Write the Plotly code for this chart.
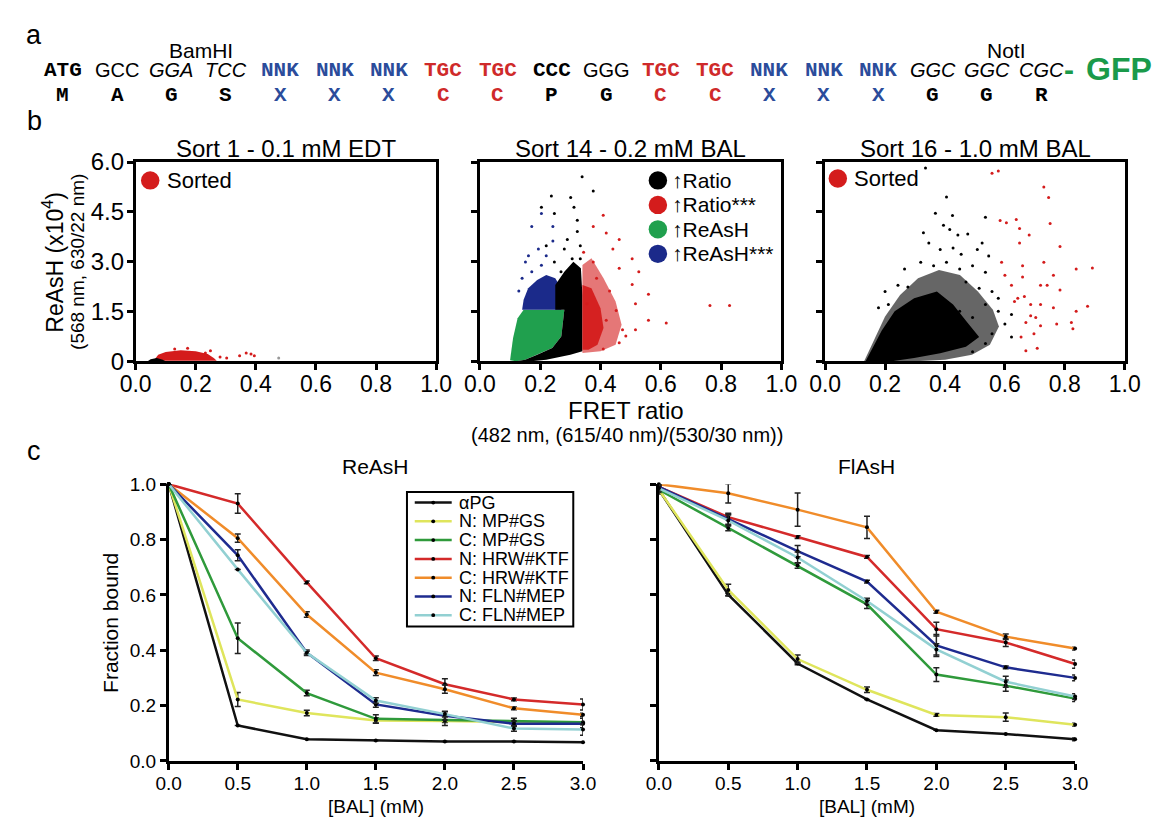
import plotly.graph_objects as go

W, H = 1166, 830
SANS = "Liberation Sans"
MONO = "Liberation Mono"

# ---------------- Panel a: sequence ----------------
codons = ["ATG", "GCC", "GGA", "TCC", "NNK", "NNK", "NNK", "TGC", "TGC", "CCC",
          "GGG", "TGC", "TGC", "NNK", "NNK", "NNK", "GGC", "GGC", "CGC"]
aminos = ["M", "A", "G", "S", "X", "X", "X", "C", "C", "P",
          "G", "C", "C", "X", "X", "X", "G", "G", "R"]
codon_kind = ["mono", "sans", "ital", "ital", "mono", "mono", "mono", "mono", "mono", "mono",
              "sans", "mono", "mono", "mono", "mono", "mono", "ital", "ital", "ital"]
BLUE_T, RED_T = "#2b4c9b", "#cf2a2a"
codon_color = ["black", "black", "black", "black", BLUE_T, BLUE_T, BLUE_T, RED_T, RED_T, "black",
               "black", RED_T, RED_T, BLUE_T, BLUE_T, BLUE_T, "black", "black", "black"]

# ---------------- Panel b: flow cytometry clouds ----------------
# Sort 1
b1_red_poly_x = [0.06, 0.075, 0.10, 0.15, 0.20, 0.24, 0.26, 0.27]
b1_red_poly_y = [0.02, 0.20, 0.28, 0.33, 0.30, 0.22, 0.10, 0.02]
b1_blk_poly_x = [0.04, 0.05, 0.07, 0.09, 0.10]
b1_blk_poly_y = [0.00, 0.06, 0.10, 0.05, 0.00]
b1_red_x = [0.281, 0.303, 0.346, 0.368, 0.384, 0.395, 0.249, 0.232, 0.173, 0.130]
b1_red_y = [0.13, 0.10, 0.17, 0.25, 0.22, 0.17, 0.32, 0.25, 0.39, 0.37]
b1_grey_x = [0.476]
b1_grey_y = [0.10]

# Sort 14
b2_green_poly_x = [0.10, 0.11, 0.125, 0.145, 0.28, 0.27, 0.24, 0.19, 0.15, 0.12]
b2_green_poly_y = [0.03, 0.70, 1.30, 1.55, 1.55, 0.75, 0.40, 0.20, 0.05, 0.00]
b2_blue_poly_x = [0.14, 0.145, 0.16, 0.19, 0.22, 0.25, 0.27, 0.27]
b2_blue_poly_y = [1.55, 1.85, 2.20, 2.45, 2.60, 2.50, 2.20, 1.55]
b2_black_poly_x = [0.12, 0.15, 0.19, 0.24, 0.27, 0.28, 0.25, 0.25, 0.28, 0.31, 0.335, 0.34, 0.34, 0.30, 0.22, 0.17]
b2_black_poly_y = [0.00, 0.05, 0.20, 0.40, 0.75, 1.55, 1.55, 2.30, 2.70, 3.00, 2.80, 2.00, 0.30, 0.20, 0.05, 0.00]
b2_red_halo_x = [0.34, 0.34, 0.37, 0.41, 0.45, 0.47, 0.45, 0.40]
b2_red_halo_y = [0.25, 2.90, 3.10, 2.50, 1.80, 1.10, 0.50, 0.30]
b2_red_core_x = [0.34, 0.34, 0.37, 0.40, 0.41, 0.39, 0.36]
b2_red_core_y = [0.35, 2.30, 2.20, 1.60, 1.00, 0.50, 0.35]
b2_black_x = [0.339, 0.376, 0.237, 0.301, 0.204, 0.312, 0.247, 0.323, 0.290, 0.323, 0.333, 0.280,
              0.247, 0.306, 0.220, 0.333, 0.269]
b2_black_y = [5.56, 5.13, 4.98, 4.93, 4.64, 4.64, 4.45, 4.25, 3.67, 3.91, 3.48, 3.38,
              2.99, 3.09, 3.48, 3.09, 2.70]
b2_blue_x = [0.204, 0.172, 0.242, 0.161, 0.194, 0.220, 0.140, 0.172, 0.242, 0.151, 0.204, 0.129]
b2_blue_y = [4.45, 4.06, 4.06, 3.18, 3.38, 3.18, 2.50, 2.70, 3.62, 2.99, 2.89, 2.12]
b2_red_x = [0.409, 0.376, 0.419, 0.462, 0.441, 0.344, 0.505, 0.376, 0.462, 0.527, 0.505, 0.559,
            0.516, 0.559, 0.618, 0.763, 0.828, 0.484, 0.462, 0.419, 0.430, 0.387, 0.355, 0.452,
            0.473, 0.516, 0.409]
b2_red_y = [4.40, 4.06, 3.86, 3.67, 3.38, 3.28, 3.09, 2.99, 2.80, 2.70, 2.31, 2.02,
            1.73, 1.24, 1.15, 1.68, 1.68, 0.76, 0.56, 1.24, 2.12, 2.50, 1.73, 1.53,
            0.95, 0.95, 0.37]

# Sort 16
b3_halo_x = [0.13, 0.16, 0.20, 0.25, 0.31, 0.38, 0.45, 0.51, 0.56, 0.58, 0.55, 0.49, 0.40, 0.30]
b3_halo_y = [0.00, 0.60, 1.35, 2.00, 2.50, 2.75, 2.60, 2.10, 1.55, 1.05, 0.50, 0.20, 0.05, 0.00]
b3_core_x = [0.135, 0.189, 0.232, 0.297, 0.373, 0.427, 0.470, 0.514, 0.470, 0.384, 0.297, 0.222]
b3_core_y = [0.00, 0.93, 1.51, 1.90, 2.10, 1.71, 1.22, 0.73, 0.44, 0.24, 0.10, 0.00]
b3_black_x = [0.335, 0.405, 0.368, 0.425, 0.535, 0.328, 0.395, 0.416, 0.443, 0.476, 0.346, 0.384,
              0.427, 0.454, 0.508, 0.524, 0.546, 0.265, 0.319, 0.362, 0.405, 0.449, 0.492, 0.535,
              0.243, 0.276, 0.470, 0.514, 0.557, 0.211, 0.535, 0.578, 0.622, 0.600, 0.557, 0.535,
              0.492, 0.622, 0.178, 0.200, 0.578, 0.449, 0.492]
b3_black_y = [5.82, 4.95, 4.46, 4.39, 4.34, 3.87, 4.10, 3.97, 3.80, 3.83, 3.56, 3.37,
              3.41, 3.22, 3.37, 3.56, 3.17, 2.78, 2.98, 2.88, 2.98, 2.78, 2.88, 2.68,
              2.29, 2.24, 2.39, 2.20, 2.10, 1.71, 1.71, 1.51, 1.41, 1.12, 0.83, 0.54,
              0.29, 0.73, 1.61, 2.10, 1.90, 1.51, 1.32]
b3_red_x = [0.557, 0.578, 0.730, 0.746, 0.584, 0.605, 0.638, 0.649, 0.681, 0.751, 0.784, 0.649,
            0.589, 0.659, 0.730, 0.762, 0.838, 0.892, 0.600, 0.659, 0.622, 0.719, 0.741, 0.784,
            0.643, 0.665, 0.632, 0.686, 0.719, 0.762, 0.838, 0.876, 0.670, 0.686, 0.703, 0.719,
            0.773, 0.822, 0.827, 0.697, 0.670, 0.708, 0.654]
b3_red_y = [5.66, 5.73, 5.25, 4.93, 4.24, 4.17, 4.27, 4.00, 3.80, 4.15, 3.46, 3.56,
            2.98, 2.88, 2.98, 2.59, 2.78, 2.81, 2.59, 2.54, 2.29, 2.29, 2.29, 2.15,
            1.90, 1.95, 1.80, 1.71, 1.71, 1.61, 1.51, 1.66, 1.17, 1.37, 1.32, 1.07,
            1.12, 1.17, 0.98, 0.83, 0.32, 0.39, 0.73]

b_xticks = [0.0, 0.2, 0.4, 0.6, 0.8, 1.0]
b_xticktext = ["0.0", "0.2", "0.4", "0.6", "0.8", "1.0"]
b_yticks = [0, 1.5, 3.0, 4.5, 6.0]
b_yticktext = ["0", "1.5", "3.0", "4.5", "6.0"]

# ---------------- Panel c: titration curves ----------------
bal = [0.0, 0.5, 1.0, 1.5, 2.0, 2.5, 3.0]
series_names = ["\u03b1PG", "N: MP#GS", "C: MP#GS", "N: HRW#KTF", "C: HRW#KTF", "N: FLN#MEP", "C: FLN#MEP"]
series_colors = ["#111111", "#dfe55c", "#2f9a3b", "#d42a2a", "#f08c2a", "#1e2b8f", "#92d0d2"]

reash_vals = [
    [1.0, 0.128, 0.078, 0.074, 0.070, 0.070, 0.067],
    [1.0, 0.222, 0.173, 0.146, 0.144, 0.140, 0.136],
    [1.0, 0.443, 0.245, 0.152, 0.148, 0.144, 0.140],
    [1.0, 0.930, 0.645, 0.371, 0.277, 0.222, 0.204],
    [1.0, 0.805, 0.529, 0.319, 0.259, 0.190, 0.167],
    [1.0, 0.743, 0.391, 0.204, 0.163, 0.134, 0.134],
    [1.0, 0.692, 0.391, 0.218, 0.169, 0.117, 0.113],
]
reash_err = [
    [0, 0, 0, 0, 0, 0, 0],
    [0, 0.025, 0.010, 0.010, 0.005, 0.005, 0.005],
    [0, 0.055, 0.010, 0.015, 0.020, 0.010, 0.020],
    [0, 0.035, 0.005, 0.008, 0.020, 0.005, 0.020],
    [0, 0.015, 0.010, 0.010, 0.015, 0.005, 0.005],
    [0, 0.020, 0.010, 0.010, 0.015, 0.010, 0.020],
    [0, 0, 0.005, 0.010, 0.010, 0.010, 0.020],
]
flash_vals = [
    [0.98, 0.601, 0.352, 0.222, 0.111, 0.097, 0.078],
    [0.98, 0.618, 0.368, 0.257, 0.166, 0.158, 0.131],
    [0.98, 0.842, 0.706, 0.566, 0.312, 0.272, 0.225],
    [0.99, 0.881, 0.809, 0.737, 0.476, 0.428, 0.350],
    [1.00, 0.967, 0.908, 0.844, 0.539, 0.449, 0.406],
    [0.99, 0.875, 0.758, 0.648, 0.417, 0.338, 0.300],
    [0.985, 0.869, 0.735, 0.578, 0.403, 0.286, 0.233],
]
flash_err = [
    [0.015, 0.005, 0.005, 0, 0, 0, 0.005],
    [0.015, 0.020, 0.015, 0.010, 0.005, 0.015, 0.005],
    [0.010, 0.010, 0.010, 0.015, 0.025, 0.020, 0.010],
    [0, 0.010, 0.005, 0.005, 0.025, 0.015, 0.015],
    [0, 0.035, 0.060, 0.040, 0.005, 0.010, 0.005],
    [0.010, 0.020, 0.020, 0.005, 0.040, 0.005, 0.010],
    [0.010, 0.020, 0.020, 0.010, 0.020, 0.020, 0.010],
]
c_xticks = [0.0, 0.5, 1.0, 1.5, 2.0, 2.5, 3.0]
c_xticktext = ["0.0", "0.5", "1.0", "1.5", "2.0", "2.5", "3.0"]
c_yticks = [0.0, 0.2, 0.4, 0.6, 0.8, 1.0]
c_yticktext = ["0.0", "0.2", "0.4", "0.6", "0.8", "1.0"]

# ---------------- helpers ----------------
def px(x):
    return x / W


def py(y):
    return 1 - y / H


RED, GREEN, NAVY = "#d41c1c", "#20a04e", "#1b2a8a"

fig = go.Figure()


def poly(xs, ys, color, ax):
    fig.add_trace(go.Scatter(x=xs, y=ys, fill="toself", fillcolor=color, mode="lines",
                             line=dict(width=0, color=color), xaxis="x" + ax, yaxis="y" + ax,
                             showlegend=False, hoverinfo="skip"))


def dots(xs, ys, color, ax, size=3):
    fig.add_trace(go.Scatter(x=xs, y=ys, mode="markers", marker=dict(size=size, color=color),
                             xaxis="x" + ax, yaxis="y" + ax, showlegend=False, hoverinfo="skip"))


# Panel b1
poly(b1_red_poly_x, b1_red_poly_y, RED, "")
poly(b1_blk_poly_x, b1_blk_poly_y, "black", "")
dots(b1_red_x, b1_red_y, RED, "")
dots(b1_grey_x, b1_grey_y, "#999999", "")
# Panel b2
poly(b2_green_poly_x, b2_green_poly_y, GREEN, "2")
poly(b2_blue_poly_x, b2_blue_poly_y, NAVY, "2")
poly(b2_black_poly_x, b2_black_poly_y, "black", "2")
poly(b2_red_halo_x, b2_red_halo_y, "rgba(212,28,28,0.6)", "2")
poly(b2_red_core_x, b2_red_core_y, "rgba(212,28,28,0.95)", "2")
dots(b2_black_x, b2_black_y, "black", "2")
dots(b2_blue_x, b2_blue_y, NAVY, "2")
dots(b2_red_x, b2_red_y, RED, "2")
# Panel b3
poly(b3_halo_x, b3_halo_y, "rgba(0,0,0,0.6)", "3")
poly(b3_core_x, b3_core_y, "black", "3")
dots(b3_black_x, b3_black_y, "black", "3")
dots(b3_red_x, b3_red_y, RED, "3")

# Panel c
for i in range(len(series_names)):
    fig.add_trace(go.Scatter(
        x=bal, y=reash_vals[i], mode="lines+markers", name=series_names[i],
        line=dict(color=series_colors[i], width=2.5),
        marker=dict(color="black", size=4),
        error_y=dict(type="data", array=reash_err[i], color="#222222", thickness=1.5, width=3),
        xaxis="x4", yaxis="y4", cliponaxis=False, showlegend=False))
for i in range(len(series_names)):
    fig.add_trace(go.Scatter(
        x=bal, y=flash_vals[i], mode="lines+markers", name=series_names[i],
        line=dict(color=series_colors[i], width=2.5),
        marker=dict(color="black", size=4),
        error_y=dict(type="data", array=flash_err[i], color="#222222", thickness=1.5, width=3),
        xaxis="x5", yaxis="y5", cliponaxis=False, showlegend=False))

# ---------------- axes ----------------
b_x_dom = [(123, 432), (477, 787), (832, 1140)]
b_y_dom = (153, 359)
c_x_dom = [(157, 583), (661, 1089)]
c_y_dom = (486, 772)

layout_axes = {}
for k, (x0, x1) in enumerate(b_x_dom):
    n = "" if k == 0 else str(k + 1)
    layout_axes["xaxis" + n] = dict(
        domain=[px(x0), px(x1)], range=[0, 1], anchor="y" + n,
        tickvals=b_xticks, ticktext=b_xticktext, ticks="outside", ticklen=6, tickwidth=2.5,
        tickcolor="black", showline=True, linewidth=2.5, linecolor="black", mirror=True,
        showgrid=False, zeroline=False, ticklabelstandoff=-6,
        tickfont=dict(family=SANS, size=23, color="black"))
    layout_axes["yaxis" + n] = dict(
        domain=[py(b_y_dom[1]), py(b_y_dom[0])], range=[0, 6], anchor="x" + n,
        tickvals=b_yticks, ticktext=b_yticktext, ticks="outside", ticklen=6, tickwidth=2.5,
        tickcolor="black", showline=True, linewidth=2.5, linecolor="black", mirror=True,
        showgrid=False, zeroline=False, showticklabels=(k == 0), ticklabelstandoff=-2,
        tickfont=dict(family=SANS, size=24, color="black"))
for k, (x0, x1) in enumerate(c_x_dom):
    n = str(k + 4)
    layout_axes["xaxis" + n] = dict(
        domain=[px(x0), px(x1)], range=[0, 3], anchor="y" + n,
        tickvals=c_xticks, ticktext=c_xticktext, ticks="outside", ticklen=6, tickwidth=2.5,
        tickcolor="black", showline=True, linewidth=2.5, linecolor="black",
        showgrid=False, zeroline=False, ticklabelstandoff=-2,
        tickfont=dict(family=SANS, size=19, color="black"))
    layout_axes["yaxis" + n] = dict(
        domain=[py(c_y_dom[1]), py(c_y_dom[0])], range=[0, 1], anchor="x" + n,
        tickvals=c_yticks, ticktext=c_yticktext, ticks="outside", ticklen=6, tickwidth=2.5,
        tickcolor="black", showline=True, linewidth=2.5, linecolor="black",
        showgrid=False, zeroline=False, showticklabels=(k == 0),
        tickfont=dict(family=SANS, size=19, color="black"))

# ---------------- annotations ----------------
ann = []
shapes = []


def text(x, y, t, size, family=SANS, color="black", xanchor="center", angle=0):
    ann.append(dict(x=px(x), y=py(y), xref="paper", yref="paper", text=t, showarrow=False,
                    xanchor=xanchor, yanchor="middle", textangle=angle,
                    font=dict(family=family, size=size, color=color)))


# panel letters
text(19, 22, "a", 27)
text(19, 111, "b", 27)
text(19, 452, "c", 27)

# sequence
for i, (cd, aa) in enumerate(zip(codons, aminos)):
    xc = 48 + i * 55.9
    kind = codon_kind[i]
    if kind == "mono":
        text(xc, 58, "<b>" + cd + "</b>", 21, MONO, codon_color[i])
    elif kind == "ital":
        text(xc, 58, "<i>" + cd + "</i>", 20, SANS, codon_color[i])
    else:
        text(xc, 58, cd, 20, SANS, codon_color[i])
    text(xc, 84, "<b>" + aa + "</b>", 21, MONO, codon_color[i])
text(190, 38, "BamHI", 21)
text(1018, 38, "NotI", 21)
text(1083, 57, "<b>-</b>", 30, SANS, "#1a9a4a")
text(1134, 57, "<b>GFP</b>", 32, SANS, "#1a9a4a")

# panel b titles
text(278, 139, "Sort 1 - 0.1 mM EDT", 24)
text(632, 139, "Sort 14 - 0.2 mM BAL", 24)
text(987, 139, "Sort 16 - 1.0 mM BAL", 24)
text(38, 256, "ReAsH (x10<sup>4</sup>)", 23, angle=-90)
text(63, 256, "(568 nm, 630/22 nm)", 19, angle=-90)
text(627, 410, "FRET ratio", 24)
text(628, 435, "(482 nm, (615/40 nm)/(530/30 nm))", 20)


def circ(cx, cy, color, r=9.5):
    shapes.append(dict(type="circle", xref="paper", yref="paper",
                       x0=px(cx - r), x1=px(cx + r), y0=py(cy + r), y1=py(cy - r),
                       fillcolor=color, line=dict(width=0)))


circ(138, 172, RED)
text(153, 172, "Sorted", 22, xanchor="left")
leg2 = [("\u2191Ratio", "black"), ("\u2191Ratio***", RED), ("\u2191ReAsH", GREEN), ("\u2191ReAsH***", NAVY)]
for j, (lab, col) in enumerate(leg2):
    yy = 172 + j * 25.3
    circ(660, yy, col)
    text(672, yy, lab, 21, xanchor="left")
circ(845, 170, RED)
text(860, 170, "Sorted", 22, xanchor="left")

# panel c labels
text(370, 468, "ReAsH", 21)
text(875, 468, "FlAsH", 21)
text(97, 629, "Fraction bound", 21, angle=-90)
text(370, 819, "[BAL] (mM)", 19)
text(875, 819, "[BAL] (mM)", 19)

# panel c legend (drawn box)
shapes.append(dict(type="rect", xref="paper", yref="paper",
                   x0=px(402), x1=px(573), y0=py(633), y1=py(494),
                   line=dict(color="black", width=2), fillcolor="white", layer="above"))
for j, nm in enumerate(series_names):
    yy = 505 + j * 19.4
    shapes.append(dict(type="line", xref="paper", yref="paper",
                       x0=px(410), x1=px(448), y0=py(yy), y1=py(yy),
                       line=dict(color=series_colors[j], width=2.5), layer="above"))
    shapes.append(dict(type="circle", xref="paper", yref="paper",
                       x0=px(427), x1=px(431), y0=py(yy + 2), y1=py(yy - 2),
                       fillcolor="black", line=dict(width=0), layer="above"))
    text(453, yy, nm, 18, xanchor="left")

fig.update_layout(
    width=W, height=H, margin=dict(l=0, r=0, t=0, b=0),
    paper_bgcolor="white", plot_bgcolor="white", showlegend=False,
    annotations=ann, shapes=shapes,
    **layout_axes)

fig.write_html("out.html")
